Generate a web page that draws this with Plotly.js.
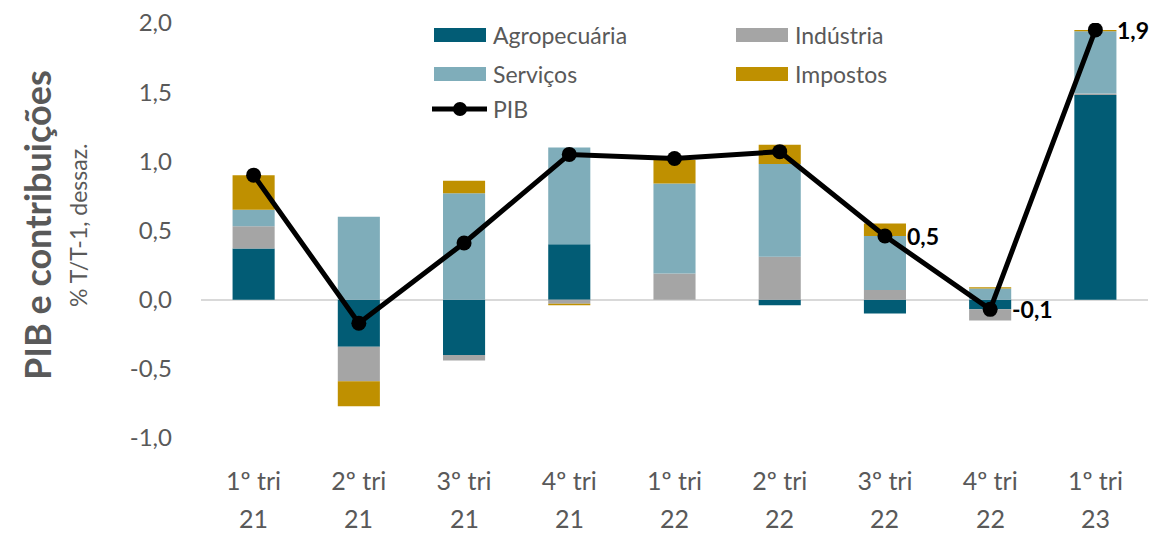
<!DOCTYPE html>
<html><head><meta charset="utf-8">
<script src="https://cdn.plot.ly/plotly-3.0.1.min.js"></script>
<style>html,body{margin:0;padding:0;background:#fff}#chart{width:1153px;height:533px}</style>
</head><body><div id="chart"></div>
<script>
const categories = ['1º tri 21','2º tri 21','3º tri 21','4º tri 21','1º tri 22','2º tri 22','3º tri 22','4º tri 22','1º tri 23'];
const quarterLabels = ['1º tri','2º tri','3º tri','4º tri','1º tri','2º tri','3º tri','4º tri','1º tri'];
const yearLabels = ['21','21','21','21','22','22','22','22','23'];
const agropecuaria = [0.37, -0.34, -0.40, 0.40, 0.00, -0.04, -0.10, -0.07, 1.48];
const industria    = [0.16, -0.25, -0.04, -0.03, 0.19, 0.31, 0.07, -0.08, 0.01];
const servicos     = [0.12, 0.60, 0.77, 0.70, 0.65, 0.67, 0.39, 0.08, 0.45];
const impostos     = [0.25, -0.18, 0.09, -0.01, 0.17, 0.14, 0.09, 0.01, 0.01];
const pib          = [0.90, -0.17, 0.41, 1.05, 1.02, 1.07, 0.46, -0.07, 1.95];
const pibLabels    = ['', '', '', '', '', '', '0,5', '-0,1', '1,9'];
const yTickVals = [-1, -0.5, 0, 0.5, 1, 1.5, 2];
const yTickText = ['-1,0','-0,5','0,0','0,5','1,0','1,5','2,0'];
const seriesNames = ['Agropecuária','Indústria','Serviços','Impostos','PIB'];
const seriesColors = ['#025C75','#A5A5A5','#7FADBA','#BF9000','#000000'];

const FONT = 'Lato, "Open Sans", sans-serif';
const GRAY = '#595959';

// layout geometry (pixels)
const W = 1153, H = 533, ML = 201, MR = 5, MT = 23, MB = 95;
const PW = W - ML - MR, PH = H - MT - MB;
const px = v => (v - ML) / PW;          // pixel x -> paper x
const py = v => (H - MB - v) / PH;      // pixel y -> paper y

function barTrace(i, y){
  return {type:'bar', name:seriesNames[i], x:categories, y:y, marker:{color:seriesColors[i]},
          hoverinfo:'skip', showlegend:false};
}
const traces = [
  barTrace(0, agropecuaria),
  barTrace(1, industria),
  barTrace(2, servicos),
  barTrace(3, impostos),
  {type:'scatter', mode:'lines+markers', name:seriesNames[4], x:categories, y:pib,
   line:{color:'#000', width:5}, marker:{color:'#000', size:15}, hoverinfo:'skip', showlegend:false}
];

const annotations = [
  {xref:'paper', yref:'paper', x:px(37), y:py(225), text:'<b>PIB e contribuições</b>', textangle:-90,
   showarrow:false, xanchor:'center', yanchor:'middle', font:{family:FONT, size:36, color:GRAY}},
  {xref:'paper', yref:'paper', x:px(78), y:py(225), text:'% T/T-1, dessaz.', textangle:-90,
   showarrow:false, xanchor:'center', yanchor:'middle', font:{family:FONT, size:23, color:GRAY}}
];
categories.forEach((c,i)=>{
  annotations.push({xref:'x', yref:'paper', x:c, y:py(518), yanchor:'middle', text:yearLabels[i],
    showarrow:false, font:{family:FONT, size:25, color:GRAY}});
  if (pibLabels[i]) {
    annotations.push({xref:'x', yref:'y', x:c, y:pib[i], xanchor:'left', yanchor:'middle', xshift:20,
      text:'<b>'+pibLabels[i]+'</b>', showarrow:false, font:{family:FONT, size:23, color:'#000'}});
  }
});

// custom legend (swatches as paper shapes, names as text)
const shapes = [];
const legendPos = [[434, 35], [736, 35], [434, 74], [736, 74], [434, 109]];
seriesNames.forEach((n,i)=>{
  const [lx, ly] = legendPos[i];
  if (i < 4) {
    shapes.push({type:'rect', xref:'paper', yref:'paper', x0:px(lx), x1:px(lx+52), y0:py(ly+7), y1:py(ly-7),
      fillcolor:seriesColors[i], line:{width:0}});
  } else {
    shapes.push({type:'line', xref:'paper', yref:'paper', x0:px(lx-2), x1:px(lx+53), y0:py(ly), y1:py(ly),
      line:{color:'#000', width:5}});
    shapes.push({type:'circle', xref:'paper', yref:'paper', x0:px(lx+19), x1:px(lx+33), y0:py(ly+7), y1:py(ly-7),
      fillcolor:'#000', line:{width:0}});
  }
  annotations.push({xref:'paper', yref:'paper', x:px(lx+57), y:py(ly), xanchor:'left', yanchor:'middle',
    text:n, showarrow:false, font:{family:FONT, size:23, color:GRAY}});
});

const layout = {
  width:W, height:H,
  margin:{l:ML, r:MR, t:MT, b:MB},
  paper_bgcolor:'#fff', plot_bgcolor:'#fff',
  barmode:'relative', bargap:0.6,
  font:{family:FONT, color:GRAY},
  showlegend:false,
  xaxis:{type:'category', tickmode:'array', tickvals:categories, ticktext:quarterLabels,
    showgrid:false, showline:false, zeroline:false, ticks:'', ticklabelstandoff:26,
    tickfont:{family:FONT, size:25, color:GRAY}, range:[-0.5, 8.5]},
  yaxis:{range:[-1, 2], tickmode:'array', tickvals:yTickVals, ticktext:yTickText,
    showgrid:false, showline:false, zeroline:true, zerolinecolor:'#D9D9D9', zerolinewidth:2,
    ticks:'', ticklabelstandoff:28, tickfont:{family:FONT, size:24, color:GRAY}},
  annotations:annotations,
  shapes:shapes
};
Plotly.newPlot('chart', traces, layout, {displayModeBar:false, staticPlot:true});
</script>
</body></html>
